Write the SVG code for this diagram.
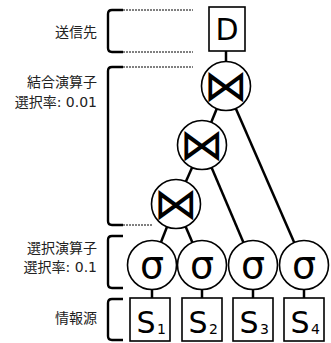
<svg xmlns="http://www.w3.org/2000/svg" width="331" height="343" viewBox="0 0 331 343">
<style>
.lbl{font-family:"DejaVu Sans","Noto Sans CJK JP",sans-serif;font-size:14px;fill:#222;text-anchor:end}
.br{fill:none;stroke:#000;stroke-width:2.4}
.dash{fill:none;stroke:#000;stroke-width:1;stroke-dasharray:2,1}
.con{stroke:#000;stroke-width:2.5;fill:none}
.node{fill:#fff;stroke:#000;stroke-width:1.6}
.big{font-family:"DejaVu Sans",sans-serif;text-anchor:middle;fill:#000}
.bow{font-family:"DejaVu Sans",sans-serif;text-anchor:middle;fill:#000;font-size:44px}
.sub{font-family:"DejaVu Sans",sans-serif;font-size:14px;fill:#000}
</style>
<g id="brackets">
<path class="br" d="M123 10 H112 Q108 10 108 14 V48 Q108 52 112 52 H123"/>
<path class="dash" d="M123 10 H193 M123 52 H193"/>
<path class="br" d="M123 67 H112 Q108 67 108 71 V221 Q108 225 112 225 H123"/>
<path class="dash" d="M123 67 H193 M123 225 H153"/>
<path class="br" d="M123 236 H112 Q108 236 108 240 V284 Q108 288 112 288 H123"/>
<path class="br" d="M123 299 H112 Q108 299 108 303 V336 Q108 340 112 340 H123"/>
</g>
<g id="labels">
<text class="lbl" x="97" y="37">送信先</text>
<text class="lbl" x="97" y="87">結合演算子</text>
<text class="lbl" x="97" y="107">選択率: 0.01</text>
<text class="lbl" x="97" y="253">選択演算子</text>
<text class="lbl" x="97" y="272">選択率: 0.1</text>
<text class="lbl" x="97" y="323">情報源</text>
</g>
<g id="connectors">
<line class="con" x1="226" y1="51" x2="226" y2="86"/>
<line class="con" x1="226" y1="86" x2="202" y2="145"/>
<line class="con" x1="226" y1="86" x2="304" y2="265"/>
<line class="con" x1="202" y1="145" x2="176" y2="204"/>
<line class="con" x1="202" y1="145" x2="253" y2="265"/>
<line class="con" x1="176" y1="204" x2="152" y2="265"/>
<line class="con" x1="176" y1="204" x2="202" y2="265"/>
<line class="con" x1="152" y1="265" x2="152" y2="298"/>
<line class="con" x1="202" y1="265" x2="202" y2="298"/>
<line class="con" x1="253" y1="265" x2="253" y2="298"/>
<line class="con" x1="304" y1="265" x2="304" y2="298"/>
</g>
<g id="D">
<rect class="node" x="209" y="7" width="36" height="44"/>
<text class="big" x="227" y="40" font-size="30">D</text>
</g>
<g id="join1">
<circle class="node" cx="226" cy="86" r="24.5"/>
<text class="bow" x="226" y="101">⋈</text>
</g>
<g id="join2">
<circle class="node" cx="202" cy="145" r="24.5"/>
<text class="bow" x="202" y="160">⋈</text>
</g>
<g id="join3">
<circle class="node" cx="176" cy="204" r="24.5"/>
<text class="bow" x="176" y="219">⋈</text>
</g>
<g id="sigma1">
<circle class="node" cx="152" cy="265" r="24.5"/>
<text class="big" x="152" y="278" font-size="38">σ</text>
</g>
<g id="sigma2">
<circle class="node" cx="202" cy="265" r="24.5"/>
<text class="big" x="202" y="278" font-size="38">σ</text>
</g>
<g id="sigma3">
<circle class="node" cx="253" cy="265" r="24.5"/>
<text class="big" x="253" y="278" font-size="38">σ</text>
</g>
<g id="sigma4">
<circle class="node" cx="304" cy="265" r="24.5"/>
<text class="big" x="304" y="278" font-size="38">σ</text>
</g>
<g id="S1">
<rect class="node" x="130" y="298" width="40" height="43"/>
<text class="big" x="146" y="333" font-size="30">S</text>
<text class="sub" x="157" y="334">1</text>
</g>
<g id="S2">
<rect class="node" x="182" y="298" width="40" height="43"/>
<text class="big" x="198" y="333" font-size="30">S</text>
<text class="sub" x="209" y="334">2</text>
</g>
<g id="S3">
<rect class="node" x="233" y="298" width="40" height="43"/>
<text class="big" x="249" y="333" font-size="30">S</text>
<text class="sub" x="260" y="334">3</text>
</g>
<g id="S4">
<rect class="node" x="284" y="298" width="40" height="43"/>
<text class="big" x="300" y="333" font-size="30">S</text>
<text class="sub" x="311" y="334">4</text>
</g>
</svg>
